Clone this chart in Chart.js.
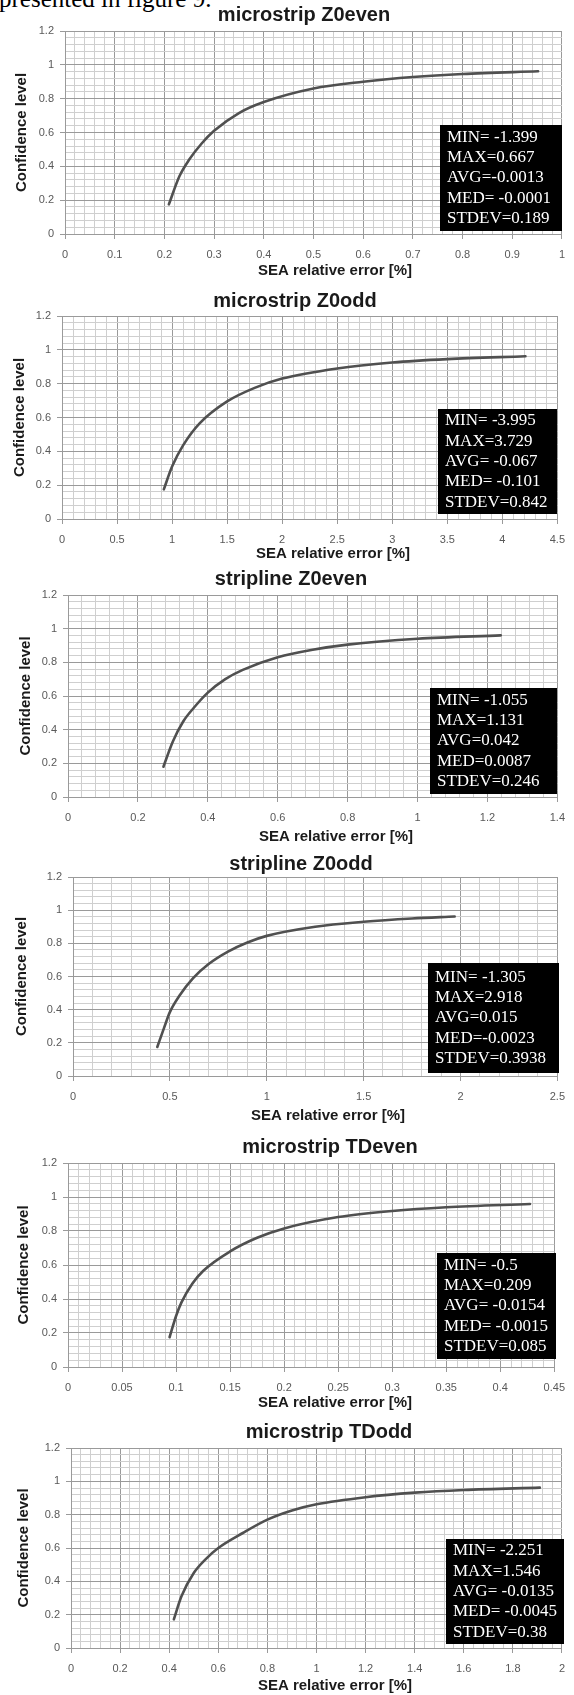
<!DOCTYPE html>
<html>
<head>
<meta charset="utf-8">
<script src="https://cdn.jsdelivr.net/npm/chart.js@4.4.1/dist/chart.umd.min.js"></script>
<style>
  html, body { margin: 0; padding: 0; background: #fff; overflow: hidden; }
  body { position: relative; width: 574px; height: 1695px; }
  canvas { position: absolute; left: 0; }
  .intro {
    position: absolute; left: -1px; top: -14px;
    font-family: "Liberation Serif", "Times New Roman", serif;
    font-size: 25px; line-height: 1; color: #000; white-space: nowrap;
  }
</style>
</head>
<body>
<div class="intro">presented in figure 9.</div>
<script>
// ---- data ----
const chartTitles = ['microstrip Z0even', 'microstrip Z0odd', 'stripline Z0even',
                     'stripline Z0odd', 'microstrip TDeven', 'microstrip TDodd'];
const xAxisTitle = 'SEA relative error [%]';
const yAxisTitle = 'Confidence level';

// x axis ranges and tick steps
const xMax   = [1, 4.5, 1.4, 2.5, 0.45, 2];
const xMajor = [0.1, 0.5, 0.2, 0.5, 0.05, 0.2];
const xMinor = [0.02, 0.1, 0.04, 0.1, 0.01, 0.04];
const yMax = 1.2, yMajor = 0.2, yMinor = 0.04;

// curves: SEA relative error [%] vs confidence level
const errMsZ0even  = [0.209, 0.23, 0.25, 0.275, 0.3, 0.35, 0.4, 0.5, 0.6, 0.7, 0.8, 0.952];
const confMsZ0even = [0.175, 0.34, 0.44, 0.535, 0.61, 0.715, 0.78, 0.86, 0.9, 0.928, 0.946, 0.962];

const errMsZ0odd  = [0.925, 1.0, 1.1, 1.25, 1.5, 1.75, 2.0, 2.5, 3.0, 3.5, 4.21];
const confMsZ0odd = [0.175, 0.31, 0.435, 0.565, 0.695, 0.775, 0.83, 0.89, 0.925, 0.945, 0.962];

const errSlZ0even  = [0.273, 0.3, 0.33, 0.36, 0.4, 0.45, 0.5, 0.6, 0.7, 0.8, 1.0, 1.238];
const confSlZ0even = [0.18, 0.33, 0.45, 0.53, 0.62, 0.7, 0.755, 0.83, 0.875, 0.905, 0.94, 0.96];

const errSlZ0odd  = [0.435, 0.47, 0.5, 0.55, 0.62, 0.7, 0.8, 0.9, 1.0, 1.25, 1.5, 1.75, 1.97];
const confSlZ0odd = [0.175, 0.29, 0.385, 0.485, 0.59, 0.675, 0.75, 0.805, 0.845, 0.9, 0.93, 0.95, 0.962];

const errMsTDeven  = [0.094, 0.1, 0.105, 0.115, 0.125, 0.15, 0.175, 0.2, 0.25, 0.3, 0.35, 0.4275];
const confMsTDeven = [0.175, 0.3, 0.38, 0.49, 0.565, 0.68, 0.76, 0.815, 0.882, 0.918, 0.94, 0.959];

const errMsTDodd  = [0.419, 0.45, 0.5, 0.55, 0.6, 0.7, 0.8, 0.9, 1.0, 1.2, 1.4, 1.6, 1.91];
const confMsTDodd = [0.172, 0.31, 0.45, 0.535, 0.6, 0.69, 0.77, 0.825, 0.862, 0.905, 0.932, 0.948, 0.962];

// statistics printed in the black boxes
const statsMsZ0even = ['MIN= -1.399', 'MAX=0.667', 'AVG=-0.0013', 'MED= -0.0001', 'STDEV=0.189'];
const statsMsZ0odd  = ['MIN= -3.995', 'MAX=3.729', 'AVG= -0.067', 'MED= -0.101', 'STDEV=0.842'];
const statsSlZ0even = ['MIN= -1.055', 'MAX=1.131', 'AVG=0.042', 'MED=0.0087', 'STDEV=0.246'];
const statsSlZ0odd  = ['MIN= -1.305', 'MAX=2.918', 'AVG=0.015', 'MED=-0.0023', 'STDEV=0.3938'];
const statsMsTDeven = ['MIN= -0.5', 'MAX=0.209', 'AVG= -0.0154', 'MED= -0.0015', 'STDEV=0.085'];
const statsMsTDodd  = ['MIN= -2.251', 'MAX=1.546', 'AVG= -0.0135', 'MED= -0.0045', 'STDEV=0.38'];

const curves = [
  [errMsZ0even, confMsZ0even], [errMsZ0odd, confMsZ0odd], [errSlZ0even, confSlZ0even],
  [errSlZ0odd, confSlZ0odd], [errMsTDeven, confMsTDeven], [errMsTDodd, confMsTDodd]
];
const stats = [statsMsZ0even, statsMsZ0odd, statsSlZ0even, statsSlZ0odd, statsMsTDeven, statsMsTDodd];

// ---- page layout (page pixels) ----
const layouts = [
  { plot: [65, 31, 566, 234],    title: [304, 15],   xTitle: [335, 271],  yTitleX: 22, box: [440, 125, 562, 231] },
  { plot: [62, 316, 560, 519],   title: [295, 301],  xTitle: [333, 554],  yTitleX: 20, box: [438, 409, 557, 514] },
  { plot: [68, 595, 562, 797],   title: [291, 579],  xTitle: [336, 837],  yTitleX: 26, box: [430, 688, 557, 794] },
  { plot: [73, 877, 562, 1076],  title: [301, 864],  xTitle: [328, 1116], yTitleX: 22, box: [428, 963, 559, 1073] },
  { plot: [68, 1163, 562, 1367], title: [330, 1147], xTitle: [335, 1403], yTitleX: 24, box: [437, 1253, 556, 1359] },
  { plot: [71, 1448, 567, 1648], title: [329, 1432], xTitle: [335, 1686], yTitleX: 24, box: [446, 1539, 564, 1644] }
];

const majorGrid = '#9a9a9a';
const minorGrid = '#cfcfcf';
const sans = '"Liberation Sans", Arial, sans-serif';

function isMajor(v, step) {
  const r = v / step;
  return Math.abs(r - Math.round(r)) < 1e-6;
}
function fmt(v) {
  return String(Number(v.toFixed(4)));
}

// draws chart title, x axis title and the stats box
const decorPlugin = {
  id: 'decor',
  afterDraw(chart, args, opts) {
    const ctx = chart.ctx;
    ctx.save();
    ctx.fillStyle = '#1a1a1a';
    ctx.textAlign = 'center';
    ctx.textBaseline = 'middle';
    ctx.font = 'bold 20px ' + sans;
    ctx.fillText(opts.title, opts.titleAt[0], opts.titleAt[1]);
    ctx.font = 'bold 15px ' + sans;
    ctx.fillText(xAxisTitle, opts.xTitleAt[0], opts.xTitleAt[1]);

    const [l, t, r, b] = opts.box;
    ctx.fillStyle = '#000';
    ctx.fillRect(l, t, r - l, b - t);
    ctx.fillStyle = '#fff';
    ctx.textAlign = 'left';
    ctx.font = '17px "Liberation Serif", "Times New Roman", serif';
    const pitch = 20.3;
    const pad = (b - t - pitch * (opts.lines.length - 1)) / 2;
    opts.lines.forEach((s, i) => ctx.fillText(s, l + 7, t + pad + i * pitch));
    ctx.restore();
  }
};

layouts.forEach((L, i) => {
  const top = L.title[1] - 18;
  const bottom = Math.min(1695, L.xTitle[1] + 12);
  const canvas = document.createElement('canvas');
  canvas.width = 574;
  canvas.height = bottom - top;
  canvas.style.top = top + 'px';
  document.body.appendChild(canvas);

  const [pl, pt, pr, pb] = L.plot;
  const [xs, ys] = curves[i];
  const xStep = xMajor[i];

  new Chart(canvas.getContext('2d'), {
    type: 'line',
    data: {
      datasets: [{
        data: xs.map((x, j) => ({ x: x, y: ys[j] })),
        borderColor: '#505050',
        borderWidth: 2.6,
        pointRadius: 0,
        cubicInterpolationMode: 'monotone',
        borderCapStyle: 'round',
        fill: false
      }]
    },
    options: {
      responsive: false,
      animation: false,
      devicePixelRatio: 1,
      events: [],
      layout: { padding: { left: 0, top: pt - top, right: 574 - pr, bottom: 0 } },
      plugins: {
        legend: { display: false },
        tooltip: { enabled: false },
        decor: {
          title: chartTitles[i],
          titleAt: [L.title[0], L.title[1] - top],
          xTitleAt: [L.xTitle[0], L.xTitle[1] - top],
          box: [L.box[0], L.box[1] - top, L.box[2], L.box[3] - top],
          lines: stats[i]
        }
      },
      scales: {
        x: {
          type: 'linear',
          min: 0,
          max: xMax[i],
          afterFit: (scale) => { scale.height = (bottom - top) - (pb - top); },
          border: { color: majorGrid, width: 1 },
          grid: {
            color: (c) => isMajor(c.tick.value, xStep) ? majorGrid : minorGrid,
            tickColor: (c) => isMajor(c.tick.value, xStep) ? majorGrid : 'rgba(0,0,0,0)',
            tickLength: 5,
            lineWidth: 1
          },
          ticks: {
            stepSize: xMinor[i],
            maxTicksLimit: 1000,
            autoSkip: false,
            maxRotation: 0,
            padding: 9,
            color: '#595959',
            font: { family: sans, size: 11 },
            callback: (v) => isMajor(v, xStep) ? fmt(v) : ''
          }
        },
        y: {
          min: 0,
          max: yMax,
          afterFit: (scale) => { scale.width = pl; },
          border: { color: majorGrid, width: 1 },
          grid: {
            color: (c) => isMajor(c.tick.value, yMajor) ? majorGrid : minorGrid,
            tickColor: (c) => isMajor(c.tick.value, yMajor) ? majorGrid : 'rgba(0,0,0,0)',
            tickLength: 5,
            lineWidth: 1
          },
          ticks: {
            stepSize: yMinor,
            maxTicksLimit: 1000,
            autoSkip: false,
            padding: 6,
            color: '#595959',
            font: { family: sans, size: 11 },
            callback: (v) => isMajor(v, yMajor) ? fmt(v) : ''
          },
          title: {
            display: true,
            text: yAxisTitle,
            color: '#1a1a1a',
            font: { family: sans, size: 15, weight: 'bold' },
            padding: { top: L.yTitleX - 9, bottom: 0 }
          }
        }
      }
    },
    plugins: [decorPlugin]
  });
});
</script>
</body>
</html>
